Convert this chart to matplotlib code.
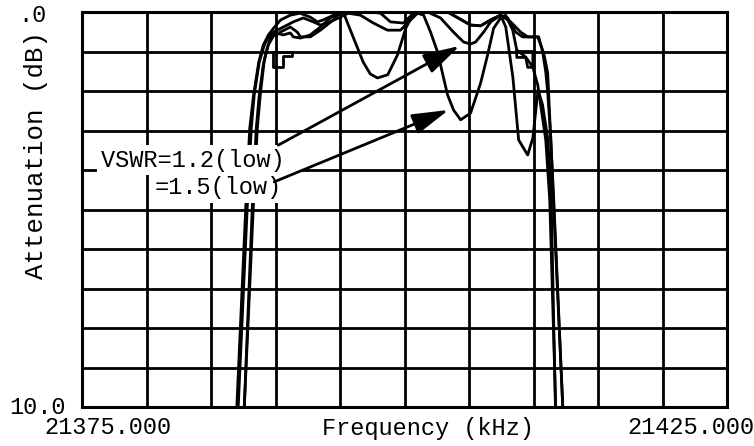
import matplotlib
matplotlib.use("Agg")
import matplotlib.pyplot as plt

plt.rcParams['font.family'] = ['Liberation Mono', 'DejaVu Sans Mono']

# frequency (kHz) / attenuation (dB)
freq_a = [21387.11, 21387.81, 21388.12, 21388.35, 21388.74, 21389.13, 21389.44, 21389.83,
          21390.61, 21391.38, 21392.16, 21392.93, 21393.48, 21394.02, 21395.03, 21395.81,
          21396.58, 21397.36, 21398.14, 21398.91, 21399.92, 21400.70, 21401.24, 21403.34,
          21405.12, 21405.90, 21406.68, 21407.45, 21408.23, 21409.01, 21409.55, 21410.33,
          21410.79, 21411.10, 21411.34, 21411.57, 21412.27]
att_a = [10.0, 4.94, 2.94, 2.10, 1.27, 0.84, 0.63, 0.51,
         0.38, 0.25, 0.15, 0.25, 0.33, 0.28, 0.13, 0.0,
         0.0, 0.0, 0.03, 0.25, 0.28, 0.03, 0.0, 0.0,
         0.33, 0.35, 0.20, 0.08, 0.25, 0.51, 0.63, 0.63,
         1.04, 1.54, 3.24, 4.76, 10.0]

freq_b = [21387.58, 21388.28, 21388.59, 21388.82, 21389.13, 21389.44, 21389.83, 21390.37,
          21391.15, 21391.69, 21391.93, 21392.70, 21393.48, 21394.49, 21395.03, 21396.58,
          21397.59, 21398.68, 21399.69, 21400.23, 21401.01, 21401.79, 21402.79, 21403.80,
          21404.58, 21405.12, 21405.51, 21406.13, 21406.68, 21407.45, 21408.00, 21408.62,
          21409.16, 21410.40, 21410.71, 21410.95, 21411.10, 21411.34, 21411.49, 21412.27]
att_b = [10.0, 4.94, 2.94, 2.10, 1.22, 0.84, 0.61, 0.51,
         0.38, 0.51, 0.63, 0.63, 0.46, 0.20, 0.0, 0.08,
         0.28, 0.46, 0.46, 0.28, 0.03, 0.0, 0.15, 0.51,
         0.76, 0.81, 0.76, 0.51, 0.25, 0.08, 0.15, 0.51,
         0.63, 0.63, 1.01, 1.52, 2.03, 3.19, 4.38, 10.0]

freq_c = [21387.0, 21387.7, 21388.0, 21388.3, 21388.7, 21389.05, 21389.45, 21389.85,
          21390.4, 21391.15, 21391.9, 21392.7, 21393.25, 21393.7, 21394.5, 21395.25,
          21395.55, 21396.05, 21396.8, 21397.35, 21397.9, 21398.7, 21399.45, 21400.1,
          21400.7, 21401.25, 21403.34, 21405.12, 21405.9, 21406.68, 21407.45, 21407.85,
          21408.4, 21408.85, 21409.55, 21409.95, 21410.35, 21410.7, 21411.1, 21411.35,
          21411.7]
att_c = [10.0, 4.9, 2.95, 2.1, 1.27, 0.84, 0.58, 0.41,
         0.2, 0.08, 0.03, 0.13, 0.25, 0.2, 0.08, 0.0,
         0.25, 0.66, 1.27, 1.57, 1.67, 1.59, 1.09, 0.41,
         0.03, 0.0, 0.0, 0.33, 0.35, 0.2, 0.08, 0.38,
         1.65, 3.24, 3.62, 3.19, 1.97, 2.35, 3.19, 4.38,
         10.0]

freq_d = [21387.58, 21388.20, 21388.51, 21388.74, 21389.05, 21389.36, 21389.60, 21389.98,
          21390.61, 21391.15, 21391.38, 21391.93, 21392.70, 21393.48, 21394.25, 21395.03,
          21395.81, 21396.97, 21398.14, 21400.70, 21401.48, 21402.02, 21402.56, 21403.03,
          21403.34, 21403.80, 21404.35, 21405.12, 21405.90, 21406.44, 21406.91, 21407.45,
          21407.84, 21408.39, 21408.70, 21409.39, 21409.94, 21410.33, 21410.95, 21411.26,
          21411.72]
att_d = [10.0, 4.94, 2.94, 2.10, 1.34, 0.91, 0.66, 0.53,
         0.58, 0.53, 0.63, 0.66, 0.58, 0.38, 0.15, 0.03,
         0.0, 0.0, 0.0, 0.0, 0.08, 0.51, 1.01, 1.67,
         2.10, 2.48, 2.73, 2.56, 1.80, 1.09, 0.41, 0.15,
         0.08, 0.46, 0.96, 1.14, 1.39, 1.85, 3.24, 4.76,
         10.0]

# small step marks near 1 dB
step_l_f = [21389.8, 21389.8, 21390.55, 21390.55, 21391.3, 21391.3, 21389.8]
step_l_a = [1.0, 1.4, 1.4, 1.12, 1.12, 1.0, 1.0]
step_r_f = [21408.7, 21408.7, 21409.4, 21409.55, 21409.95, 21409.95, 21408.7]
step_r_a = [1.0, 1.15, 1.15, 1.4, 1.4, 1.0, 1.0]

W, H = 754, 446
fig = plt.figure(figsize=(W / 100, H / 100), dpi=100)
ax = fig.add_axes([82 / W, 1 - 407 / H, 645 / W, 395 / H])

lw = 2.0
for f, a in [(freq_a, att_a), (freq_b, att_b), (freq_c, att_c), (freq_d, att_d),
             (step_l_f, step_l_a), (step_r_f, step_r_a)]:
    ax.plot(f, a, color='black', lw=lw, zorder=3)

ax.set_xlim(21375, 21425)
ax.set_ylim(10, 0)
ax.set_xticks([21375 + 5 * i for i in range(11)])
ax.set_yticks(range(11))
ax.tick_params(length=0, labelbottom=False, labelleft=False)
ax.grid(True, color='black', lw=lw, zorder=1)
ax.set_axisbelow(True)
for s in ax.spines.values():
    s.set_linewidth(2.2)

# labels with arrows
box = dict(boxstyle='square,pad=0.15', fc='white', ec='none')
ax.text(21376.45, 3.75, 'VSWR=1.2(low) ', fontsize=17, ha='left', va='center',
        bbox=box, zorder=5)
ax.text(21390.5, 4.45, '=1.5(low)', fontsize=17, ha='right', va='center',
        bbox=box, zorder=5)
arr = dict(arrowstyle='-|>,head_length=1.6,head_width=0.45', mutation_scale=14,
           color='black', lw=2, shrinkA=0, shrinkB=0)
ax.annotate('', xy=(21404.27, 0.86), xytext=(21390.22, 3.37), arrowprops=arr, zorder=6)
ax.annotate('', xy=(21403.42, 2.48), xytext=(21389.9, 4.3), arrowprops=arr, zorder=6)

# axis texts
fig.text(46 / W, 1 - 15 / H, '.0', fontsize=17, ha='right', va='center')
fig.text(66 / W, 1 - 407 / H, '10.0', fontsize=17, ha='right', va='center')
fig.text(108 / W, 1 - 428 / H, '21375.000', fontsize=17, ha='center', va='center')
fig.text(428 / W, 1 - 428 / H, 'Frequency (kHz)', fontsize=17, ha='center', va='center')
fig.text(691 / W, 1 - 428 / H, '21425.000', fontsize=17, ha='center', va='center')
fig.text(36 / W, 1 - 155 / H, 'Attenuation (dB)', fontsize=18.5, rotation=90,
         ha='center', va='center')

fig.savefig('out.png', dpi=100)
